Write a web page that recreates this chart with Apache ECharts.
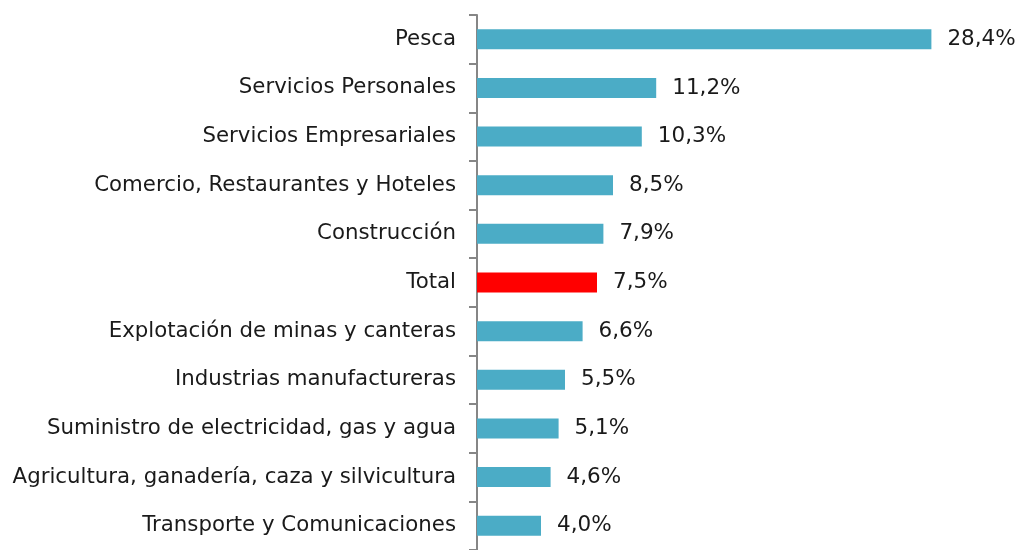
<!DOCTYPE html>
<html>
<head>
<meta charset="utf-8">
<script src="https://cdn.jsdelivr.net/npm/echarts@6/dist/echarts.min.js"></script>
<style>
  html, body { margin: 0; padding: 0; background: #fff; }
</style>
</head>
<body>
<div id="main" style="width: 1020px;height:550px;"></div>
<script>
// categorias, de arriba hacia abajo
var categorias = ['Pesca', 'Servicios Personales', 'Servicios Empresariales',
  'Comercio, Restaurantes y Hoteles', 'Construcción', 'Total',
  'Explotación de minas y canteras', 'Industrias manufactureras',
  'Suministro de electricidad, gas y agua',
  'Agricultura, ganadería, caza y silvicultura', 'Transporte y Comunicaciones']
var valores = [28.4, 11.2, 10.3, 8.5, 7.9, 7.5, 6.6, 5.5, 5.1, 4.6, 4.0]
var destacado = 'Total'

var fuente = '"DejaVu Sans", Verdana, sans-serif'

var myChart = echarts.init(document.getElementById('main'))

var option = {
  animation: false,
  grid: {
    left: 477,
    right: 63,
    top: 15,
    height: 539
  },
  xAxis: {
    type: 'value',
    min: 0,
    max: 30,
    show: false
  },
  yAxis: {
    type: 'category',
    inverse: true,
    data: categorias,
    axisLine: { lineStyle: { color: '#868686', width: 2 } },
    axisTick: { show: true, length: 8, lineStyle: { color: '#868686', width: 2 } },
    axisLabel: { fontSize: 21.3, fontFamily: fuente, color: '#1a1a1a', margin: 21 }
  },
  series: [{
    type: 'bar',
    barWidth: 20,
    data: valores.map(function (v, i) {
      return {
        value: v,
        itemStyle: { color: categorias[i] === destacado ? '#ff0000' : '#4bacc6' }
      }
    }),
    label: {
      show: true,
      position: 'right',
      distance: 16,
      fontSize: 21.5,
      fontFamily: fuente,
      color: '#1a1a1a',
      formatter: function (p) {
        return p.value.toFixed(1).replace('.', ',') + '%'
      }
    }
  }]
}

myChart.setOption(option)
</script>
</body>
</html>
